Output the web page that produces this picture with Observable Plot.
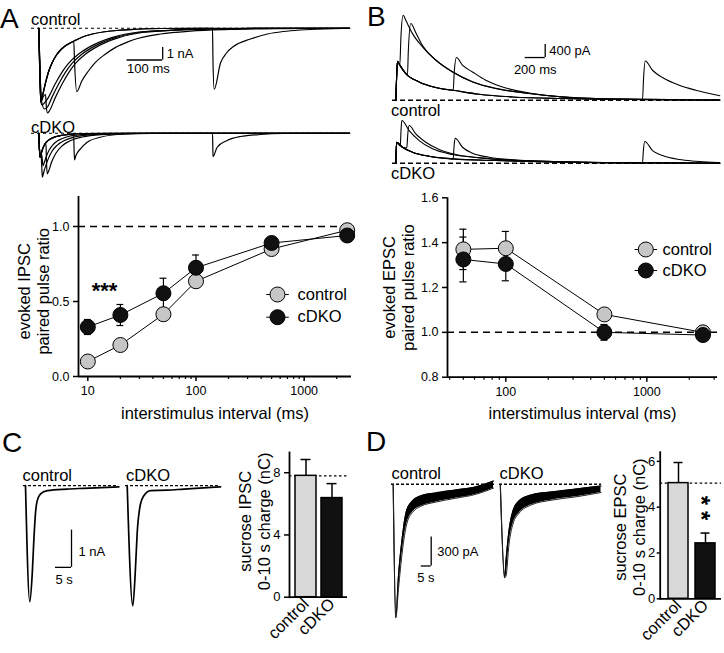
<!DOCTYPE html>
<html><head><meta charset="utf-8">
<script src="https://cdn.jsdelivr.net/npm/d3@7"></script>
<script src="https://cdn.jsdelivr.net/npm/@observablehq/plot@0.6"></script>
<style>
body{margin:0;background:#fff;}
#fig{position:relative;width:724px;height:653px;overflow:hidden;font-family:"Liberation Sans",Arial,Helvetica,sans-serif;background:#fff;}
#fig svg{position:absolute;overflow:visible;}
.lbl{position:absolute;white-space:nowrap;line-height:1;color:#000;}
</style></head><body><div id="fig"></div>
<script>
// ================= DATA =================
// Paired-pulse ratios (A: IPSC, B: EPSC)
const ipscIntervals = [10, 20, 50, 100, 500, 2500];
const ipscControl    = [0.10, 0.21, 0.415, 0.635, 0.85, 0.975];
const ipscControlSem = [0.02, 0.02, 0.03, 0.03, 0.02, 0.015];
const ipscCdko       = [0.33, 0.41, 0.555, 0.725, 0.89, 0.94];
const ipscCdkoSem    = [0.05, 0.07, 0.10, 0.085, 0.02, 0.02];

const epscIntervals  = [50, 100, 500, 2500];
const epscControl    = [1.37, 1.375, 1.08, 1.0];
const epscControlSem = [0.09, 0.075, 0.02, 0.01];
const epscCdko       = [1.325, 1.305, 1.0, 0.988];
const epscCdkoSem    = [0.10, 0.075, 0.035, 0.01];

// Sucrose charge (C: IPSC, D: EPSC)
const groups = ["control", "cDKO"];
const sucroseIpscCharge = [7.8, 6.37];
const sucroseIpscSem    = [1.05, 0.93];
const sucroseEpscCharge = [5.05, 2.42];
const sucroseEpscSem    = [0.9, 0.45];

// Tick labels
const ipscRatioTicks = [0, 0.5, 1.0];
const epscRatioTicks = [0.8, 1.0, 1.2, 1.4, 1.6];
const intervalTicks = [10, 100, 1000];
const ipscMinorTicks = [20, 30, 40, 50, 60, 70, 80, 90, 200, 300, 400, 500, 600, 700, 800, 900, 2000];
const epscMinorTicks = [40, 50, 60, 70, 80, 90, 200, 300, 400, 500, 600, 700, 800, 900, 2000, 3000];
const ipscChargeTicks = [0, 4, 8];
const epscChargeTicks = [0, 2, 4, 6];

// Scale bars [time, amplitude]
const ipscTraceBar = [100, 1];     // ms, nA
const epscTraceBar = [200, 400];   // ms, pA
const sucIpscBar = [5, 1];         // s, nA
const sucEpscBar = [5, 300];       // s, pA

// Panel A traces: [time ms, current nA]
const ipscCtrlSingle = [[0,0],[2,-2.6],[5.6,-5.9],[10.4,-5.4],[18.8,-4.38],[27.2,-3.5],[38.5,-2.7],[49.7,-2.14],[63.8,-1.66],[80.6,-1.3],[100.3,-1.0],[122.8,-0.7],[150.9,-0.46],[184.6,-0.28],[224,-0.16],[271.6,-0.08],[342,-0.02],[454,0],[873,0]];
const ipscCtrlPairA = [[0,0],[3.4,-3.6],[6,-5.9],[9,-6.14],[15,-6.0],[26.7,-5.55],[45.5,-4.48],[64.4,-3.55],[82.9,-2.83],[111,-2.08],[139,-1.55],[167,-1.15],[205,-0.75],[242,-0.48],[276,-0.32],[352,-0.18],[444,-0.07],[556,-0.02],[725,0],[873,0]];
const ipscCtrlPairB = [[0,0],[3.4,-3.42],[7.6,-5.82],[16,-6.46],[24.4,-6.3],[36.5,-5.55],[55.3,-4.48],[74.2,-3.55],[92.7,-2.83],[120.8,-2.08],[148.9,-1.55],[177,-1.15],[214.6,-0.75],[252,-0.48],[285.7,-0.32],[361.5,-0.18],[454,-0.07],[566,-0.02],[735,0],[873,0]];
const ipscCtrlPairC = [[0,0],[3.4,-3.4],[7.6,-5.8],[12,-5.5],[19,-5.3],[21,-6.2],[24.4,-6.78],[30,-6.6],[46.3,-5.55],[65.1,-4.48],[84,-3.55],[102.5,-2.83],[130.6,-2.08],[158.7,-1.55],[186.8,-1.15],[224.4,-0.75],[261.8,-0.48],[295.5,-0.32],[371,-0.18],[464,-0.07],[576,-0.02],[745,0],[873,0]];
const ipscCtrlTail100 = [[98.3,-1.06],[100.3,-2.62],[106.7,-5.07],[120.8,-4.22],[139.6,-3.42],[158.4,-2.75],[186.5,-2.08],[214.6,-1.55],[252,-1.07],[280,-0.8],[341.9,-0.46],[426,-0.23],[538.5,-0.1],[679,-0.03],[848,0],[873,0]];
const ipscCtrlTail500 = [[488,0],[489.3,-2.6],[492.7,-4.88],[510.4,-2.78],[527.2,-1.98],[546.9,-1.46],[594.7,-0.86],[642.4,-0.46],[687.4,-0.26],[735,-0.14],[828,-0.04],[873,0]];

const ipscKoSingle = [[0,0],[2,-1.38],[3.9,-1.94],[7.6,-1.54],[13.2,-1.07],[21.6,-0.7],[32.9,-0.45],[47,-0.28],[66.6,-0.16],[94.4,-0.07],[131,-0.02],[200,0],[873,0]];
const ipscKoPairA = [[0,0],[2,-1.38],[3.9,-1.94],[7,-1.6],[9.5,-2.0],[11.8,-2.6],[16,-2.3],[22,-1.8],[30,-1.3],[41,-0.88],[56,-0.55],[78,-0.3],[110,-0.14],[160,-0.05],[258,0],[873,0]];
const ipscKoPairB = [[0,0],[2,-1.38],[3.9,-1.94],[6.5,-1.7],[8.5,-2.8],[10,-3.52],[14,-3.1],[20,-2.55],[28,-1.95],[38,-1.4],[52,-0.95],[72,-0.58],[100,-0.3],[145,-0.12],[220,-0.03],[320,0],[873,0]];
const ipscKoPairC = [[0,0],[2,-1.38],[3.9,-1.94],[8,-1.5],[14,-1.05],[20,-0.8],[21.5,-2.2],[23.6,-3.25],[28,-3.0],[36,-2.3],[48,-1.6],[65,-1.02],[88,-0.6],[122,-0.3],[175,-0.11],[260,-0.03],[380,0],[873,0]];
const ipscKoTail100 = [[98,-0.07],[99,-1.2],[100.3,-2.13],[104,-1.8],[117,-1.25],[136,-0.72],[173,-0.32],[220,-0.1],[286,-0.02],[360,0],[873,0]];
const ipscKoTail500 = [[488,0],[488.8,-1.1],[489.5,-1.86],[501,-1.12],[529,-0.58],[566.6,-0.26],[623,-0.1],[687,-0.02],[774,0],[873,0]];

// Panel B traces: [time ms, current pA]
const epscCtrlSingle = [[0,0],[8,700],[17,1200],[40,1080],[100,822],[233,563],[400,391],[574,308],[834,185],[1167,102],[1667,52],[2334,25],[3000,10],[3240,6]];
const epscCtrlTail50 = [[40,1080],[52,2000],[74,2615],[100,2460],[167,2050],[267,1640],[400,1230],[567,870],[767,564],[1000,360],[1334,206],[1667,102],[2000,52],[2500,31],[3000,9],[3240,5]];
const epscCtrlTail100 = [[117,790],[125,1500],[150,2360],[200,2080],[267,1680],[400,1240],[567,875],[767,570],[1000,365],[1334,210],[1667,104],[2000,54],[2500,32],[3000,10],[3240,6]];
const epscCtrlTail500 = [[574,308],[585,900],[607,1314],[667,1077],[767,871],[900,615],[1067,409],[1334,225],[1667,102],[2000,40],[2500,20],[3000,8],[3240,5]];
const epscCtrlTail2500 = [[2467,22],[2478,700],[2494,1209],[2567,923],[2667,698],[2834,461],[3000,308],[3217,154],[3240,140]];

const epscKoSingle = [[0,0],[5,450],[10,646],[67,492],[167,338],[334,215],[574,135],[1000,83],[1667,31],[2334,12],[3000,5],[3240,3]];
const epscKoTail50 = [[45,530],[52,1000],[60,1314],[134,1006],[234,698],[367,443],[567,268],[834,166],[1167,92],[1667,43],[2334,15],[3240,2]];
const epscKoTail100 = [[110,470],[120,900],[134,1160],[200,904],[300,646],[434,422],[600,268],[834,170],[1167,95],[1667,45],[2334,15],[3240,2]];
const epscKoTail500 = [[574,135],[582,500],[594,770],[667,492],[767,308],[934,185],[1167,105],[1667,43],[2334,15],[3240,2]];
const epscKoTail2500 = [[2467,9],[2476,400],[2490,668],[2567,390],[2667,237],[2834,114],[3000,62],[3217,22],[3240,20]];

// Panel C traces: [time s, current nA]
const sucIpscCtrl = [[0,0],[1.34,-3.11],[2.1,-2.37],[2.6,-1.47],[3.1,-0.76],[3.66,-0.4],[4.7,-0.22],[6.8,-0.13],[13,-0.09],[18.2,-0.07],[29.2,-0.03]];
const sucIpscKo   = [[0,0],[1.75,-3.22],[2.6,-2.19],[3.1,-1.3],[4.15,-0.49],[5.2,-0.27],[7.3,-0.13],[12.5,-0.12],[17.7,-0.09],[29.2,-0.03]];

// Panel D traces: [time s, upper edge pA, lower noise edge pA]
const sucEpscCtrl = [[0,0,0],[1.3,-1379,-1379],[2.65,-948,-1080],[4.65,-535,-680],[6.65,-276,-420],[9.65,-173,-290],[13.65,-121,-230],[21.15,-90,-185],[31.15,-59,-145],[41.15,-28,-105],[50.15,34,-40]];
const sucEpscKo   = [[0,0,0],[2.2,-966,-966],[2.85,-793,-948],[4.35,-483,-620],[6.35,-276,-410],[9.35,-173,-300],[15.35,-111,-215],[25.35,-80,-165],[37.85,-49,-130],[50.35,-18,-85]];

// ================= RENDERING =================
const FONT = '"Liberation Sans", Arial, Helvetica, sans-serif';
const GRAY = "#c6c6c6", BARGRAY = "#d9d9d9", BLACK = "#111111";
const fig = document.getElementById("fig");
const style = {fontFamily: FONT, fontSize: "13px", background: "none", overflow: "visible", color: "#000"};
function put(node, left, top) { node.style.position = "absolute"; node.style.left = left + "px"; node.style.top = top + "px"; fig.appendChild(node); return node; }
function txt(s, left, top, size) { const d = document.createElement("div"); d.className = "lbl"; d.textContent = s; d.style.fontSize = size + "px"; return put(d, left, top); }
function before(sweep, t) { return sweep.filter(p => p[0] < t); }
function rowsOf(sweeps) { return sweeps.flatMap((s, k) => s.map(([t, v]) => ({t, v, k}))); }
const K = v => () => v;
const inDomain = (ticks, [a, b]) => ticks.filter(t => t >= a && t <= b);

function tracePlot(o) {
  return Plot.plot({
    width: o.width, height: o.height, margin: 0,
    x: {domain: o.x, axis: null}, y: {domain: o.y, axis: null},
    style,
    marks: [
      Plot.ruleY([0], {strokeDasharray: o.dash, strokeWidth: o.dashWidth}),
      Plot.line(rowsOf(o.sweeps), {x: "t", y: "v", z: "k", stroke: "black", strokeWidth: o.sw, curve: "monotone-x"}),
      ...(o.marks || [])
    ]
  });
}
function scaleBar(t0, v0, bar, lblV, lblT, opt) {
  const [dt, dv] = bar;
  return [
    Plot.ruleY([v0], {x1: K(t0), x2: K(t0 + dt), strokeWidth: 1.3}),
    Plot.ruleX([t0 + dt], {y1: K(v0), y2: K(v0 + dv), strokeWidth: 1.3}),
    Plot.text([lblV], {x: K(t0 + dt), y: K(v0 + dv / 2), dx: opt.vdx, dy: opt.vdy || 0, textAnchor: "start", lineAnchor: "middle", fontSize: 13}),
    Plot.text([lblT], {x: K(opt.tAnchor === "middle" ? t0 + dt / 2 : t0), y: K(v0), dx: opt.tdx || 0, dy: opt.tdy, textAnchor: opt.tAnchor || "start", lineAnchor: "middle", fontSize: 13})
  ];
}

// ---- Panel A traces ----
put(tracePlot({
  width: 318, height: 94, x: [-20.5, 872.8], y: [-7.22, 0.3], dash: "3,3", dashWidth: 1.1, sw: 1.2,
  sweeps: [ipscCtrlSingle, ipscCtrlPairA, ipscCtrlPairB, ipscCtrlPairC,
           before(ipscCtrlSingle, 98.3).concat(ipscCtrlTail100), before(ipscCtrlSingle, 488).concat(ipscCtrlTail500)],
  marks: scaleBar(248, -2.54, ipscTraceBar, "1 nA", "100 ms", {vdx: 4, tdy: 9})
}), 31, 23.55);
put(tracePlot({
  width: 318, height: 54, x: [-20.5, 872.8], y: [-4.02, 0.3], dash: "3,3", dashWidth: 1.1, sw: 1.2,
  sweeps: [ipscKoSingle, ipscKoPairA, ipscKoPairB, ipscKoPairC,
           before(ipscKoSingle, 98).concat(ipscKoTail100), before(ipscKoSingle, 488).concat(ipscKoTail500)]
}), 31, 128.95);

// ---- Panel B traces ----
put(tracePlot({
  width: 327, height: 98, x: [-33, 3237], y: [-100, 2915], dash: "5,3", dashWidth: 1.6, sw: 1.1,
  sweeps: [epscCtrlSingle, before(epscCtrlSingle, 40).concat(epscCtrlTail50), before(epscCtrlSingle, 117).concat(epscCtrlTail100),
           before(epscCtrlSingle, 574).concat(epscCtrlTail500), before(epscCtrlSingle, 2467).concat(epscCtrlTail2500)],
  marks: scaleBar(1294, 1314, epscTraceBar, "400 pA", "200 ms", {vdx: 4, tdy: 12, tAnchor: "middle"})
}), 392, 5.3);
put(tracePlot({
  width: 327, height: 52, x: [-33, 3237], y: [-100, 1500], dash: "5,3", dashWidth: 1.6, sw: 1.1,
  sweeps: [epscKoSingle, before(epscKoSingle, 45).concat(epscKoTail50), before(epscKoSingle, 110).concat(epscKoTail100),
           before(epscKoSingle, 574).concat(epscKoTail500), before(epscKoSingle, 2467).concat(epscKoTail2500)]
}), 392, 113.55);

// ---- Panel C traces ----
put(tracePlot({
  width: 95, height: 138, x: [-0.625, 29.06], y: [-3.4, 0.3], dash: "3,2", dashWidth: 1.3, sw: 1.7,
  sweeps: [sucIpscCtrl],
  marks: scaleBar(9.375, -2.19, sucIpscBar, "1 nA", "5 s", {vdx: 7, vdy: 3, tdy: 12.5})
}), 23, 473.8);
put(tracePlot({
  width: 95, height: 138, x: [-0.53, 29.16], y: [-3.4, 0.3], dash: "3,2", dashWidth: 1.3, sw: 1.7,
  sweeps: [sucIpscKo]
}), 125, 473.8);

// ---- Panel D traces ----
function noisyTrace(data, xd, width, extra) {
  const rows = data.map(([t, u, l]) => ({t, u, l}));
  return Plot.plot({
    width, height: 156, margin: 0, x: {domain: xd, axis: null}, y: {domain: [-1450, 163], axis: null}, style,
    marks: [
      Plot.ruleY([0], {strokeDasharray: "3,2", strokeWidth: 1.3}),
      Plot.areaY(rows, {x: "t", y1: "l", y2: "u", fill: "#000", fillOpacity: 1, curve: "monotone-x"}),
      Plot.line(rows, {x: "t", y: "u", stroke: "black", strokeWidth: 1.2, curve: "monotone-x"}),
      Plot.line(rows, {x: "t", y: "l", stroke: "#222", strokeWidth: 1, curve: "monotone-x"}),
      ...(extra || [])
    ]
  });
}
put(noisyTrace(sucEpscCtrl, [-0.85, 50.65], 103, scaleBar(14, -845, sucEpscBar, "300 pA", "5 s", {vdx: 6, tdx: -4, tdy: 11.7})), 391, 467.5);
put(noisyTrace(sucEpscKo, [-0.4, 50.6], 102), 498.5, 467.5);

// ---- Paired-pulse plots ----
const stub = {draw(ctx, size) { const r = Math.sqrt(size / Math.PI); ctx.moveTo(-r * 1.5, 0); ctx.lineTo(r * 1.5, 0); }};
function pprPlot(o) {
  const rows = o.intervals.flatMap((x, i) => [
    {x, y: o.control[i], e: o.controlSem[i], g: "control"},
    {x, y: o.cdko[i], e: o.cdkoSem[i], g: "cDKO"}]);
  const k = o.cap;
  const legend = groups.flatMap((g, i) => [
    Plot.dot([g], {x: null, y: null, frameAnchor: "top-left", dx: o.legX, dy: o.legY[i], r: 7.5, symbol: stub, stroke: "black", fill: "none", strokeWidth: 1}),
    Plot.dot([g], {x: null, y: null, frameAnchor: "top-left", dx: o.legX, dy: o.legY[i], r: 7.5, fill: i ? BLACK : GRAY, stroke: "black", strokeWidth: 1}),
    Plot.text([g], {frameAnchor: "top-left", dx: o.legTX, dy: o.legY[i], textAnchor: "start", lineAnchor: "middle", fontSize: 16.5})
  ]);
  return Plot.plot({
    width: 362, height: 250, marginLeft: o.mL, marginRight: o.mR, marginTop: o.mT, marginBottom: o.mB,
    x: {type: "log", domain: o.xDomain}, y: {domain: o.yDomain},
    color: {domain: groups, range: [GRAY, BLACK]},
    style,
    marks: [
      Plot.ruleY([1], {strokeDasharray: "7,5", strokeWidth: 1.5}),
      Plot.ruleX([o.xDomain[0]], {strokeWidth: 1.8}),
      Plot.ruleY([o.yDomain[0]], {strokeWidth: 1.8}),
      Plot.axisY({ticks: o.yTicks, tickFormat: ".1f", tickSize: 5, tickPadding: 4, fontSize: 12.5, label: null, strokeWidth: 1.5}),
      Plot.axisX({ticks: inDomain(intervalTicks, o.xDomain), tickFormat: d => String(d), tickSize: 5, tickPadding: 5, fontSize: 12.5, label: null, strokeWidth: 1.5}),
      Plot.axisX({ticks: inDomain(o.minor, o.xDomain), tickFormat: () => "", tickSize: 3, label: null, strokeWidth: 1.2}),
      Plot.line(rows, {x: "x", y: "y", z: "g", stroke: "black", strokeWidth: 1}),
      Plot.ruleX(rows, {x: "x", y1: d => d.y - d.e, y2: d => d.y + d.e, strokeWidth: 1.2}),
      Plot.ruleY(rows, {y: d => d.y + d.e, x1: d => d.x / k, x2: d => d.x * k, strokeWidth: 1.2}),
      Plot.ruleY(rows, {y: d => d.y - d.e, x1: d => d.x / k, x2: d => d.x * k, strokeWidth: 1.2}),
      Plot.dot(rows, {x: "x", y: "y", r: 7.5, fill: "g", stroke: "black", strokeWidth: 1}),
      ...legend,
      Plot.text([o.xlabel], {frameAnchor: "bottom", dy: o.xlDy, textAnchor: "middle", lineAnchor: "middle", fontSize: 16.5}),
      Plot.text([o.ylabel], {frameAnchor: "left", rotate: -90, dx: o.ylDx, dy: o.ylDy, textAnchor: "middle", lineAnchor: "middle", fontSize: 16.5, lineHeight: 1.15}),
      ...(o.extra || [])
    ]
  });
}
put(pprPlot({
  intervals: ipscIntervals, control: ipscControl, controlSem: ipscControlSem, cdko: ipscCdko, cdkoSem: ipscCdkoSem,
  mL: 78, mR: 11, mT: 16, mB: 54, xDomain: [8.2, 2740], yDomain: [0, 1.2], yTicks: ipscRatioTicks, minor: ipscMinorTicks, cap: 1.075,
  legX: 199, legTX: 219, legY: [98, 120.7],
  xlabel: "interstimulus interval (ms)", xlDy: 37,
  ylabel: "evoked IPSC\npaired pulse ratio", ylDx: -45.5, ylDy: 4.8,
  extra: [Plot.text(["***"], {frameAnchor: "top-left", dx: 26, dy: 94, textAnchor: "middle", lineAnchor: "middle", fontSize: 22, fontWeight: "bold"})]
}), 0, 180);
put(pprPlot({
  intervals: epscIntervals, control: epscControl, controlSem: epscControlSem, cdko: epscCdko, cdkoSem: epscCdkoSem,
  mL: 85, mR: 7, mT: 17.3, mB: 53.3, xDomain: [38.6, 3170], yDomain: [0.8, 1.6], yTicks: epscRatioTicks, minor: epscMinorTicks, cap: 1.06,
  legX: 198.3, legTX: 215, legY: [51.7, 72.7],
  xlabel: "interstimulus interval (ms)", xlDy: 36.6,
  ylabel: "evoked EPSC\npaired pulse ratio", ylDx: -49, ylDy: 0
}), 362, 180);

// ---- Sucrose charge bar plots ----
function chargePlot(o) {
  const rows = groups.map((g, i) => ({g, v: o.values[i], e: o.sems[i]}));
  return Plot.plot({
    width: o.width, height: 213, marginLeft: o.mL, marginRight: o.mR, marginTop: o.mT, marginBottom: o.mB,
    x: {domain: groups, paddingInner: o.pi, paddingOuter: o.po, align: o.align},
    y: {domain: o.yDomain},
    color: {domain: groups, range: [BARGRAY, BLACK]},
    style,
    marks: [
      Plot.ruleY([o.values[0]], {strokeDasharray: "2.5,2.5", strokeWidth: 1.4}),
      Plot.ruleX(rows, {x: "g", y1: "v", y2: d => d.v + d.e, strokeWidth: 1.5}),
      Plot.tickY(rows, {x: "g", y: d => d.v + d.e, insetLeft: 5.5, insetRight: 5.5, strokeWidth: 1.5}),
      Plot.barY(rows, {x: "g", y: "v", fill: "g", stroke: "black", strokeWidth: 1.5}),
      Plot.frame({anchor: "left", strokeWidth: 1.8}),
      Plot.ruleY([0], {strokeWidth: 1.8}),
      Plot.axisY({ticks: o.ticks, tickFormat: "d", tickSize: o.tickSize, tickPadding: o.tickPad, fontSize: 13, label: null, strokeWidth: 1.5}),
      Plot.axisX({tickSize: 0, tickRotate: -45, fontSize: 16.5, tickPadding: 4, label: null}),
      Plot.text([o.ylabel], {frameAnchor: "left", rotate: -90, dx: o.ylDx, dy: o.ylDy, textAnchor: "middle", lineAnchor: "middle", fontSize: 16.5, lineHeight: 1.15}),
      ...(o.extra || [])
    ]
  });
}
put(chargePlot({
  values: sucroseIpscCharge, sems: sucroseIpscSem, width: 182, mL: 109, mR: 15, mT: 12, mB: 56.3,
  pi: 0.2, po: 0.2, align: 0.57, yDomain: [0, 9.3], ticks: ipscChargeTicks, tickSize: 5, tickPad: 4,
  ylabel: "sucrose IPSC\n0-10 s charge (nC)", ylDx: -35.5, ylDy: -3.5
}), 180, 440);
const chartD = chargePlot({
  values: sucroseEpscCharge, sems: sucroseEpscSem, width: 184, mL: 119.7, mR: 3, mT: 11.7, mB: 54.7,
  pi: 0.245, po: 0.245, align: 0.62, yDomain: [0, 6.4], ticks: epscChargeTicks, tickSize: 3, tickPad: 2,
  ylabel: "sucrose EPSC\n0-10 s charge (nC)", ylDx: -31, ylDy: 1.7,
  extra: [
    // significance stars stacked vertically: one text rotated a quarter turn
    Plot.text(["**"], {frameAnchor: "top-left", dx: 40, dy: 58.8, rotate: 90, textAnchor: "middle", lineAnchor: "middle", fontSize: 24, fontWeight: "bold"})
  ]
});
chartD.querySelectorAll("text").forEach(t => { if (t.textContent === "**") t.style.letterSpacing = "6px"; });
put(chartD, 540, 440);

// ---- Panel letters and trace labels ----
txt("A", 0, 4.5, 28); txt("B", 367, 3, 28); txt("C", 2, 429, 28); txt("D", 366, 428, 28);
txt("control", 31, 10.8, 16.5); txt("cDKO", 31, 118.6, 16.5);
txt("control", 391, 102, 16.5); txt("cDKO", 391, 165, 16.5);
txt("control", 22.5, 467, 16.5); txt("cDKO", 126, 467, 16.5);
txt("control", 391.5, 464.5, 16.5); txt("cDKO", 499.5, 464.5, 16.5);
</script></body></html>
